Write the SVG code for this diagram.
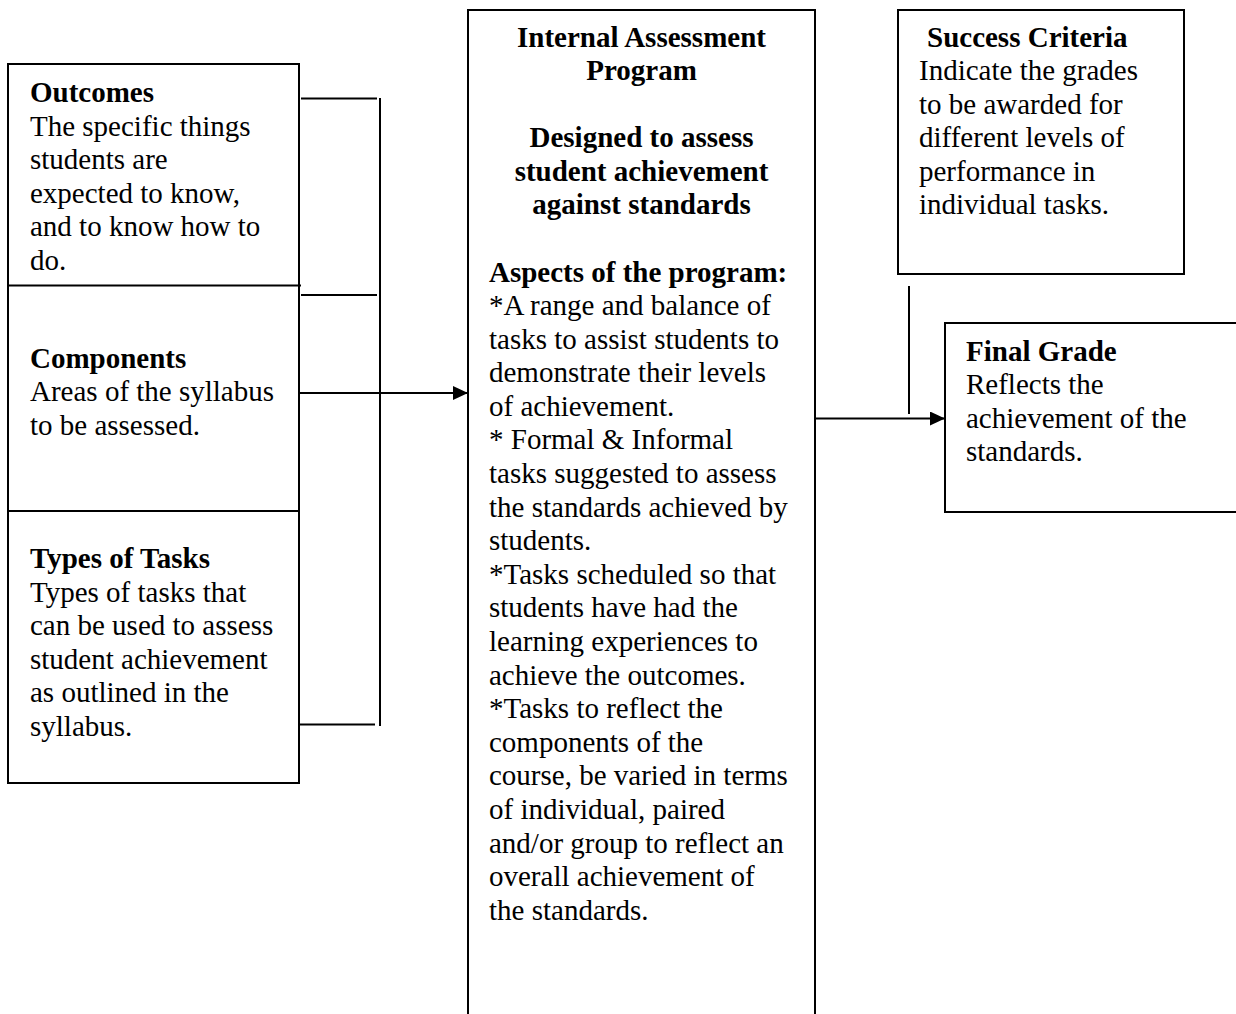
<svg xmlns="http://www.w3.org/2000/svg" width="1236" height="1014" viewBox="0 0 1236 1014">
<style>
  .box{fill:#fff;stroke:#000;stroke-width:2}
  .ln{stroke:#000;stroke-width:2;fill:none}
  .b{font-weight:bold}
  .c{text-anchor:middle}
</style>
<defs>
  <marker id="ah" markerWidth="15" markerHeight="14" refX="15" refY="7" orient="auto" markerUnits="userSpaceOnUse">
    <path d="M0,0 L15,7 L0,14 Z" fill="#000"/>
  </marker>
</defs>
<rect width="1236" height="1014" fill="#fff"/>

<g font-family="Liberation Serif" font-size="29" fill="#000">
<g id="left-column">
  <rect class="box" x="8" y="64" width="291" height="719"/>
  <line class="ln" x1="8" y1="285.5" x2="301" y2="285.5"/>
  <line class="ln" x1="8" y1="511" x2="299" y2="511"/>
</g>

<g id="outcomes">
  <text font-family="Liberation Serif" font-size="29" x="30" y="102" class="b">Outcomes</text>
  <text font-family="Liberation Serif" font-size="29"><tspan x="30" y="135.5">The specific things</tspan><tspan x="30" y="169">students are</tspan><tspan x="30" y="202.5">expected to know,</tspan><tspan x="30" y="236">and to know how to</tspan><tspan x="30" y="269.5">do.</tspan></text>
</g>

<g id="components">
  <text font-family="Liberation Serif" font-size="29" x="30" y="367.5" class="b">Components</text>
  <text font-family="Liberation Serif" font-size="29"><tspan x="30" y="401">Areas of the syllabus</tspan><tspan x="30" y="434.5">to be assessed.</tspan></text>
</g>

<g id="types-of-tasks">
  <text font-family="Liberation Serif" font-size="29" x="30" y="568" class="b">Types of Tasks</text>
  <text font-family="Liberation Serif" font-size="29"><tspan x="30" y="601.5">Types of tasks that</tspan><tspan x="30" y="635">can be used to assess</tspan><tspan x="30" y="668.5">student achievement</tspan><tspan x="30" y="702">as outlined in the</tspan><tspan x="30" y="735.5">syllabus.</tspan></text>
</g>

<g id="internal-assessment">
  <rect class="box" x="468" y="10" width="347" height="1010"/>
  <text font-family="Liberation Serif" font-size="29" class="b c"><tspan x="641.5" y="46.5">Internal Assessment</tspan><tspan x="641.5" y="80">Program</tspan><tspan x="641.5" y="147">Designed to assess</tspan><tspan x="641.5" y="180.5">student achievement</tspan><tspan x="641.5" y="214">against standards</tspan></text>
  <text font-family="Liberation Serif" font-size="29" x="489" y="281.5" class="b">Aspects of the program:</text>
  <text font-family="Liberation Serif" font-size="29"><tspan x="489" y="315">*A range and balance of</tspan><tspan x="489" y="348.6">tasks to assist students to</tspan><tspan x="489" y="382.2">demonstrate their levels</tspan><tspan x="489" y="415.8">of achievement.</tspan><tspan x="489" y="449.4">* Formal &amp; Informal</tspan><tspan x="489" y="483">tasks suggested to assess</tspan><tspan x="489" y="516.6">the standards achieved by</tspan><tspan x="489" y="550.2">students.</tspan><tspan x="489" y="583.8">*Tasks scheduled so that</tspan><tspan x="489" y="617.4">students have had the</tspan><tspan x="489" y="651">learning experiences to</tspan><tspan x="489" y="684.6">achieve the outcomes.</tspan><tspan x="489" y="718.2">*Tasks to reflect the</tspan><tspan x="489" y="751.8">components of the</tspan><tspan x="489" y="785.4">course, be varied in terms</tspan><tspan x="489" y="819">of individual, paired</tspan><tspan x="489" y="852.6">and/or group to reflect an</tspan><tspan x="489" y="886.2">overall achievement of</tspan><tspan x="489" y="919.8">the standards.</tspan></text>
</g>

<g id="success-criteria">
  <rect class="box" x="898" y="10" width="286" height="264"/>
  <text font-family="Liberation Serif" font-size="29" x="927" y="46.5" class="b">Success Criteria</text>
  <text font-family="Liberation Serif" font-size="29"><tspan x="919" y="80">Indicate the grades</tspan><tspan x="919" y="113.5">to be awarded for</tspan><tspan x="919" y="147">different levels of</tspan><tspan x="919" y="180.5">performance in</tspan><tspan x="919" y="214">individual tasks.</tspan></text>
</g>

<g id="final-grade">
  <rect class="box" x="945" y="323" width="300" height="189"/>
  <text font-family="Liberation Serif" font-size="29" x="966" y="360.5" class="b">Final Grade</text>
  <text font-family="Liberation Serif" font-size="29"><tspan x="966" y="394">Reflects the</tspan><tspan x="966" y="427.5">achievement of the</tspan><tspan x="966" y="461">standards.</tspan></text>
</g>
</g>

<g id="connectors">
  <line class="ln" x1="301" y1="98.5" x2="377" y2="98.5"/>
  <line class="ln" x1="301" y1="295" x2="377" y2="295"/>
  <line class="ln" x1="299" y1="724.5" x2="375" y2="724.5"/>
  <line class="ln" x1="380" y1="98" x2="380" y2="726"/>
  <line class="ln" x1="299" y1="393" x2="468" y2="393" marker-end="url(#ah)"/>
  <line class="ln" x1="909" y1="286" x2="909" y2="414"/>
  <line class="ln" x1="815" y1="418.5" x2="945" y2="418.5" marker-end="url(#ah)"/>
</g>
</svg>
